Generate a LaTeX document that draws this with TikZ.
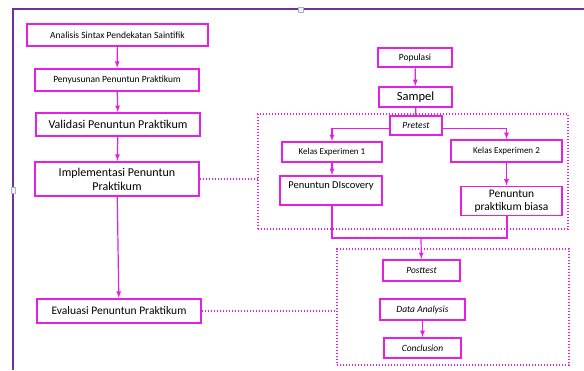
\documentclass[tikz,border=0pt]{standalone}
\usepackage{fontspec}
\setmainfont{Carlito}
\usetikzlibrary{arrows}
\definecolor{pinkline}{RGB}{228,32,228}
\definecolor{framepurple}{RGB}{112,48,160}
\tikzset{
  step box/.style={
    % The shape:
    shape=rectangle,
    % The border:
    line width=1.8pt,
    draw=pinkline,
    fill=white,
    % The text:
    inner sep=1pt,align=center,font=\fontsize{9.5}{11}\selectfont}}
\tikzset{
	group box/.style={
		% The shape:
		rectangle,inner sep=0pt,
		% The rest
		line width=1.4pt,draw=pinkline,
		dash pattern=on 1.4pt off 1.6pt}}
\tikzset{
	flow/.style={draw=pinkline,line width=1.2pt,->,>=latex},
	link/.style={draw=pinkline,line width=1.2pt},
	dotlink/.style={draw=pinkline,line width=1.4pt,dash pattern=on 1.4pt off 1.6pt}}

\begin{document}
\begin{tikzpicture}[x=1pt,y=-1pt]
	\useasboundingbox (0,0) rectangle (584,370);
	% Frame of the picture
	\draw[framepurple,line width=1.6pt] (13,370) -- (13,9) -- (584,9);
	\draw[fill=cyan!10,draw=gray!60,line width=0.5pt] (298,7) rectangle (303,12);
	\draw[fill=cyan!10,draw=gray!60,line width=0.5pt] (11,187) rectangle (15,193);
	% Groups
	\node[group box,minimum width=310pt,minimum height=115pt] (grp1) at (413,171.5) {};
	\node[group box,minimum width=232pt,minimum height=116pt] (grp2) at (453,307) {};
	% Left column
	\node[step box,minimum width=181pt,minimum height=22.5pt] (ana) at (117.5,35) {Analisis Sintax Pendekatan Saintifik};
	\node[step box,minimum width=164pt,minimum height=22.5pt] (pen) at (117,80) {Penyusunan Penuntun Praktikum};
	\node[step box,minimum width=164pt,minimum height=23pt,font=\fontsize{12}{14}\selectfont] (val) at (118,124.5) {Validasi Penuntun Praktikum};
	\node[step box,minimum width=164pt,minimum height=34.5pt,font=\fontsize{12}{14}\selectfont] (imp) at (117,179) {Implementasi Penuntun\\Praktikum};
	\node[step box,minimum width=164pt,minimum height=24.5pt,font=\fontsize{11.5}{13}\selectfont] (eva) at (119,311) {Evaluasi Penuntun Praktikum};
	% Right column
	\node[step box,minimum width=74pt,minimum height=19pt] (pop) at (415,57.5) {Populasi};
	\node[step box,minimum width=73pt,minimum height=20pt,font=\fontsize{12.5}{14}\selectfont] (sam) at (415.5,97) {Sampel};
	\node[step box,minimum width=52pt,minimum height=19pt,font=\fontsize{9.5}{11}\itshape] (pre) at (416,125.5) {Pretest};
	\node[step box,minimum width=100pt,minimum height=20pt,font=\fontsize{9}{11}\selectfont] (ke1) at (332,152) {Kelas Experimen 1};
	\node[step box,minimum width=111pt,minimum height=22pt,font=\fontsize{9}{11}\selectfont] (ke2) at (506.5,151) {Kelas Experimen 2};
	\node[step box,minimum width=102pt,minimum height=29pt,text depth=10pt,font=\fontsize{10.5}{12}\selectfont] (dis) at (331,190.5) {Penuntun DIscovery};
	\node[step box,minimum width=101pt,minimum height=29pt,font=\fontsize{11.5}{12.5}\selectfont] (bia) at (511.5,201) {Penuntun\\praktikum biasa};
	\node[step box,minimum width=77pt,minimum height=21pt,font=\fontsize{9.5}{11}\itshape] (pos) at (421.5,270.5) {Posttest};
	\node[step box,minimum width=85pt,minimum height=21pt,font=\fontsize{9.5}{11}\itshape] (dat) at (422.5,309.5) {Data Analysis};
	\node[step box,minimum width=77pt,minimum height=20pt,font=\fontsize{9.5}{11}\itshape] (con) at (422.5,348) {Conclusion};
	\coordinate (mrg) at (421,238);
	% Lines of the left column
	\draw[flow] (ana) -- (pen);
	\draw[flow] (pen) -- (val);
	\draw[flow] (val) -- (imp);
	\draw[flow] (imp) -- (eva);
	% Lines to the groups
	\draw[dotlink] (imp.east) -- (imp.east -| grp1.west);
	\draw[dotlink] (eva.east) -- (eva.east -| grp2.west);
	% Lines of the right column
	\draw[flow] (pop) -- (sam);
	\draw[link] (sam) -- (pre);
	\draw[flow] ([yshift=-3pt]pre.west) -| (ke1.north);
	\draw[flow] ([yshift=-3pt]pre.east) -| (ke2.north);
	\draw[flow] (ke1) -- (dis.north -| ke1);
	\draw[flow] (ke2) -- (ke2 |- bia.north);
	% Lines into the posttest
	\draw[link] (dis.south -| ke1) |- (mrg) -| ([xshift=-4.5pt]bia.south);
	\draw[flow] (mrg) -- (pos);
	\draw[flow] (dat) -- (con);
\end{tikzpicture}
\end{document}
